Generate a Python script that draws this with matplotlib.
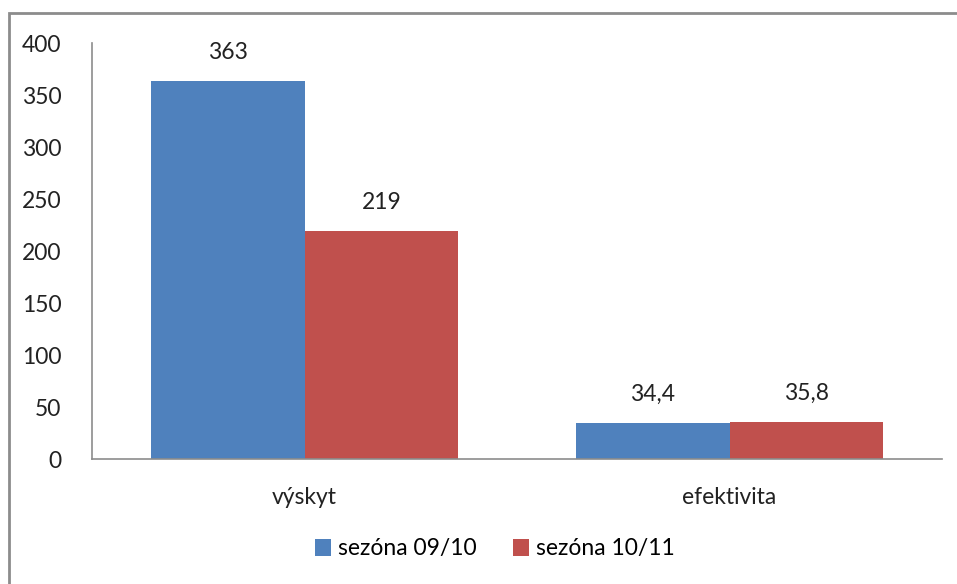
import matplotlib
matplotlib.use("Agg")
import matplotlib.pyplot as plt
from matplotlib.patches import Rectangle

categories = ["výskyt", "efektivita"]
series_names = ["sezóna 09/10", "sezóna 10/11"]
season_0910 = [363, 34.4]
season_1011 = [219, 35.8]
yticks = [0, 50, 100, 150, 200, 250, 300, 350, 400]

colors = ["#4F81BD", "#C0504D"]

plt.rcParams["font.family"] = ["Lato", "DejaVu Sans"]
fs = 16.5

fig = plt.figure(figsize=(9.57, 5.84), dpi=100)
ax = fig.add_axes([92 / 957, 125 / 584, 850 / 957, 416 / 584])

# outer chart border (cropped on right and bottom like the original)
fig.patches.append(Rectangle((9 / 957, -0.1), 1.2, 1 - 13 / 584 + 0.1,
                             transform=fig.transFigure, fill=False,
                             edgecolor="#8c8c8c", linewidth=2))

w = 0.362
x = list(range(len(categories)))


def fmt(v):
    return str(v).replace(".", ",")


for i, (vals, name) in enumerate(zip([season_0910, season_1011], series_names)):
    pos = [p - w / 2 + i * w for p in x]
    bars = ax.bar(pos, vals, width=w, color=colors[i], label=name)
    for b, v in zip(bars, vals):
        ax.annotate(fmt(v), (b.get_x() + b.get_width() / 2, b.get_height()),
                    xytext=(0, 13), textcoords="offset points",
                    ha="center", va="bottom", fontsize=fs, color="#222222")

ax.set_xlim(-0.5, 1.5)
ax.set_ylim(0, 400)
ax.set_yticks(yticks)
ax.set_xticks(x)
ax.set_xticklabels(categories)
ax.tick_params(axis="both", length=0, labelsize=fs, colors="#222222")
ax.tick_params(axis="y", pad=22)
ax.tick_params(axis="x", pad=20)

for s in ["top", "right"]:
    ax.spines[s].set_visible(False)
for s in ["left", "bottom"]:
    ax.spines[s].set_color("#8c8c8c")
    ax.spines[s].set_linewidth(1.2)

fig.legend(loc="center", bbox_to_anchor=(495 / 957, 1 - 549 / 584), ncol=2,
           frameon=False, fontsize=fs, handlelength=0.7, handleheight=0.7,
           handletextpad=0.3, columnspacing=1.6)

fig.savefig("out.png", dpi=100)
